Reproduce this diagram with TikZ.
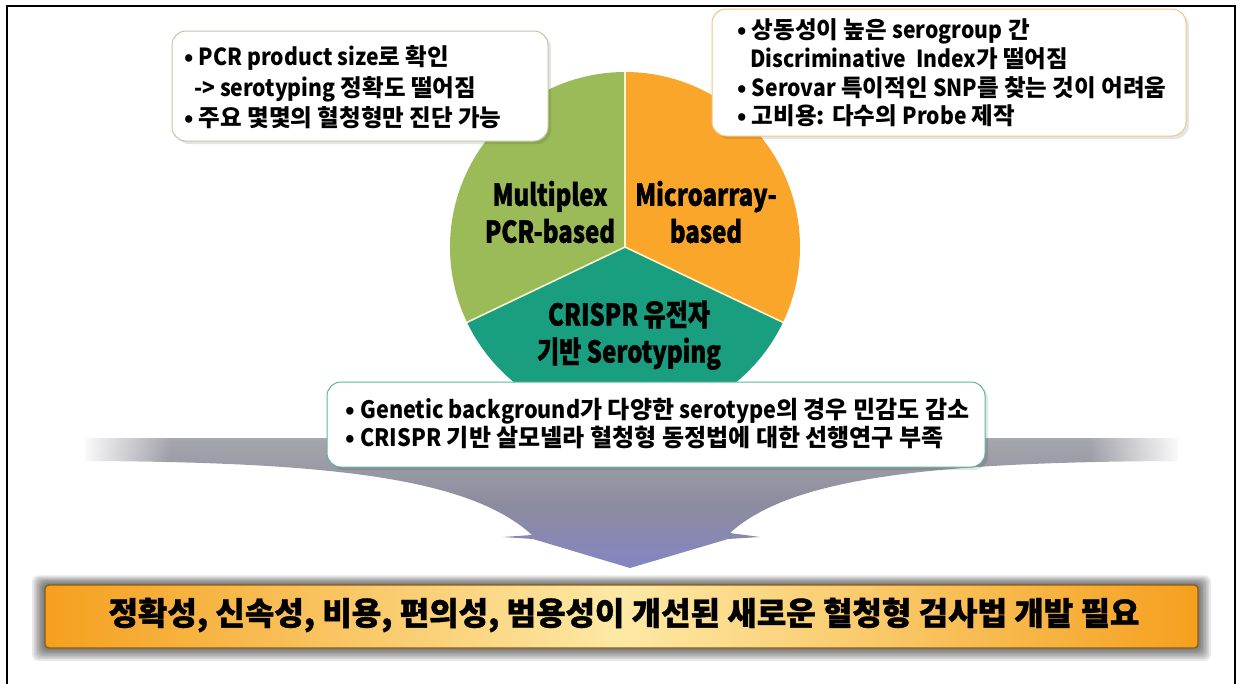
\documentclass[tikz,border=0pt]{standalone}
\usepackage{fontspec}
\setmainfont{Noto Sans CJK KR}
\newfontfamily\latn{Noto Sans CJK KR}[FakeStretch=0.9]
\newfontfamily\heavy{Noto Sans CJK KR}[BoldFeatures={FakeBold=1.2}]
\newfontfamily\heavyc{Noto Sans CJK KR}[FakeStretch=0.8, BoldFeatures={FakeBold=1.2}]
\usetikzlibrary{fadings}
\definecolor{pgreen}{RGB}{155,187,89}
\definecolor{porange}{RGB}{249,166,43}
\definecolor{pteal}{RGB}{26,158,128}
\definecolor{divline}{RGB}{250,246,205}
\definecolor{tlborder}{RGB}{196,198,170}
\definecolor{trborder}{RGB}{240,196,128}
\definecolor{bborder}{RGB}{92,182,158}
\definecolor{banorange}{RGB}{245,160,30}
\definecolor{banlight}{RGB}{253,233,165}
\definecolor{banedge}{RGB}{140,92,20}
\definecolor{ashA}{RGB}{140,140,228}
\definecolor{ashB}{RGB}{132,132,200}
\definecolor{ashC}{RGB}{140,140,158}
\definecolor{ashD}{RGB}{165,165,172}
\definecolor{ashE}{RGB}{198,198,200}
\definecolor{ashF}{RGB}{238,238,238}
\pgfdeclareverticalshading{arrowshade}{100bp}{%
  color(0bp)=(ashA);
  color(22bp)=(ashB);
  color(50bp)=(ashC);
  color(74bp)=(ashD);
  color(86bp)=(ashE);
  color(100bp)=(ashF)}
\tikzfading[name=opaqueleft, left color=transparent!0, right color=transparent!100]
\tikzfading[name=opaqueright, left color=transparent!100, right color=transparent!0]
\tikzset{
  infobox/.style={draw, fill=white, rounded corners=14pt, line width=1pt, inner sep=0pt},
  boxtxt/.style={anchor=west, align=left, inner sep=0pt},
  pielabel/.style={align=center, inner sep=0pt, font=\heavyc\bfseries\fontsize{30}{37}\selectfont},
  divider/.style={draw=divline, line width=1.6pt},
}
\begin{document}
\begin{tikzpicture}[x=1pt,y=-1pt]
\useasboundingbox (0,0) rectangle (1240,683);
% frame
\draw[line width=1.5pt] (7,690) -- (7,6) -- (1235,6) -- (1235,690);

% gray arrow
\shade[shading=arrowshade]
  (85,438) -- (1178,438) -- (1178,461)
  .. controls (930,462) and (790,478) .. (730,533)
  -- (760,537) -- (728,539) -- (630,568) -- (533,539) -- (503,537) -- (532,535)
  .. controls (470,478) and (330,462) .. (85,461) -- cycle;
\fill[white, path fading=opaqueleft] (80,432) rectangle (170,470);
\fill[white, path fading=opaqueright] (1090,432) rectangle (1182,470);

% pie
\coordinate (C) at (625,247);
\fill[pgreen] (C) -- ++(154.5:175) arc[start angle=154.5, end angle=270, radius=175] -- cycle;
\fill[porange] (C) -- ++(-90:175) arc[start angle=-90, end angle=25.5, radius=175] -- cycle;
\fill[pteal] (C) -- ++(25.5:175) arc[start angle=25.5, end angle=154.5, radius=175] -- cycle;
\draw[divider] (C) -- ++(270:175);
\draw[divider] (C) -- ++(154.5:175);
\draw[divider] (C) -- ++(25.5:175);

\node[pielabel] (mpx) at (550,212) {Multiplex\\PCR-based};
\node[pielabel] (mic) at (706,212) {Microarray-\\based};
\node[pielabel] (cri) at (629,335) {CRISPR 유전자\\기반 Serotyping};

% boxes
\fill[black, opacity=0.10, rounded corners=14pt] (175,34) rectangle (551,144);
\node[infobox, draw=tlborder, minimum width=376pt, minimum height=110pt] (tlbox) at (360,86) {};
\node[boxtxt, font=\bfseries\fontsize{23.5}{30.5}\selectfont] (tltxt) at (184,87.5)
  {• {\latn PCR product size}로 확인\\\hspace*{10pt}{\latn -> serotyping} 정확도 떨어짐\\• 주요 몇몇의 혈청형만 진단 가능};

\fill[black, opacity=0.10, rounded corners=14pt] (715,12) rectangle (1189,139);
\node[infobox, draw=trborder, minimum width=474pt, minimum height=127pt] (trbox) at (949,72.5) {};
\node[boxtxt, font=\bfseries\fontsize{23.5}{28.7}\selectfont] (trtxt) at (737,73)
  {• 상동성이 높은 {\latn serogroup} 간\\\hspace*{13pt}{\latn Discriminative\ \ Index}가 떨어짐\\• {\latn Serovar} 특이적인 {\latn SNP}를 찾는 것이 어려움\\• 고비용: 다수의 {\latn Probe} 제작};

\fill[black, opacity=0.10, rounded corners=14pt] (330,385) rectangle (988,470);
\node[infobox, draw=bborder, minimum width=658pt, minimum height=85pt] (bbox) at (656,424.5) {};
\node[boxtxt, font=\bfseries\fontsize{24}{28}\selectfont] (btxt) at (345,424)
  {• {\latn Genetic background}가 다양한 {\latn serotype}의 경우 민감도 감소\\• {\latn CRISPR} 기반 살모넬라 혈청형 동정법에 대한 선행연구 부족};

% banner shadow
\foreach \i in {1,...,8}{
  \fill[black, opacity=0.085, rounded corners=6pt] (45-1.6*\i,585-1.2*\i) rectangle (1198+1.6*\i,648+1.6*\i);
}
\node[draw=banedge, line width=1.2pt, rounded corners=4pt, left color=banorange, right color=banorange, middle color=banlight,
  minimum width=1153pt, minimum height=63pt, inner sep=0pt] (banner) at (621.5,616.5) {};
\node[font=\heavy\bfseries\fontsize{32}{38}\selectfont, inner sep=0pt] (bantxt) at (624,615)
  {정확성, 신속성, 비용, 편의성, 범용성이 개선된 새로운 혈청형 검사법 개발 필요};
\end{tikzpicture}
\end{document}
